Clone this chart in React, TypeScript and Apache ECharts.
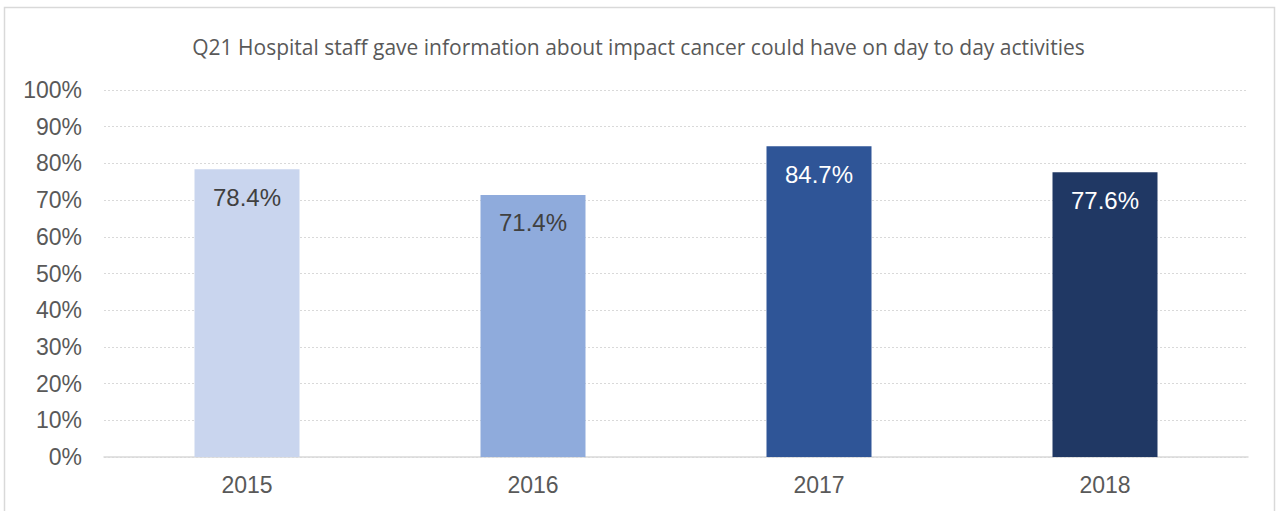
import React, { useEffect, useRef } from "react";
import * as echarts from "echarts";

const categories = ["2015", "2016", "2017", "2018"];
const values = [78.4, 71.4, 84.7, 77.6];
const barColors = ["#C9D5EE", "#8FABDC", "#2F5597", "#203864"];
const labelColors = ["#404040", "#404040", "#FFFFFF", "#FFFFFF"];
const title = "Q21 Hospital staff gave information about impact cancer could have on day to day activities";

export default function App() {
  const ref = useRef<HTMLDivElement>(null);
  useEffect(() => {
    const chart = echarts.init(ref.current!, null, { renderer: "svg" });
    chart.setOption({
      animation: false,
      backgroundColor: "#fff",
      title: {
        text: title,
        left: "center",
        top: 31,
        textStyle: { fontFamily: "Open Sans", fontSize: 21, fontWeight: "normal", color: "#595959" },
      },
      graphic: [
        {
          type: "rect",
          shape: { x: 4.5, y: 7.5, width: 1270, height: 520 },
          style: { fill: "none", stroke: "#D9D9D9", lineWidth: 1.5 },
          silent: true,
        },
      ],
      grid: { left: 104, right: 29, top: 90, bottom: 54 },
      xAxis: {
        type: "category",
        data: categories,
        axisTick: { show: false },
        axisLine: { lineStyle: { color: "#D9D9D9", width: 1.5 } },
        axisLabel: { color: "#595959", fontFamily: "Liberation Sans", fontSize: 23, margin: 16 },
      },
      yAxis: {
        type: "value",
        min: 0,
        max: 100,
        interval: 10,
        axisLine: { show: false },
        axisTick: { show: false },
        splitLine: { lineStyle: { color: "#D9D9D9", type: [2, 2], width: 1 } },
        axisLabel: {
          formatter: "{value}%",
          color: "#595959",
          fontFamily: "Liberation Sans",
          fontSize: 23,
          margin: 22,
        },
      },
      series: [
        {
          type: "bar",
          barWidth: 105,
          data: values.map((v, i) => ({
            value: v,
            itemStyle: { color: barColors[i] },
            label: { color: labelColors[i] },
          })),
          label: {
            show: true,
            position: "insideTop",
            distance: 16,
            formatter: (p: any) => p.value.toFixed(1) + "%",
            fontFamily: "Liberation Sans",
            fontSize: 24,
          },
        },
      ],
    });
    return () => chart.dispose();
  }, []);
  return <div ref={ref} style={{ position: "fixed", left: 0, top: 0, width: 1277, height: 511 }} />;
}
